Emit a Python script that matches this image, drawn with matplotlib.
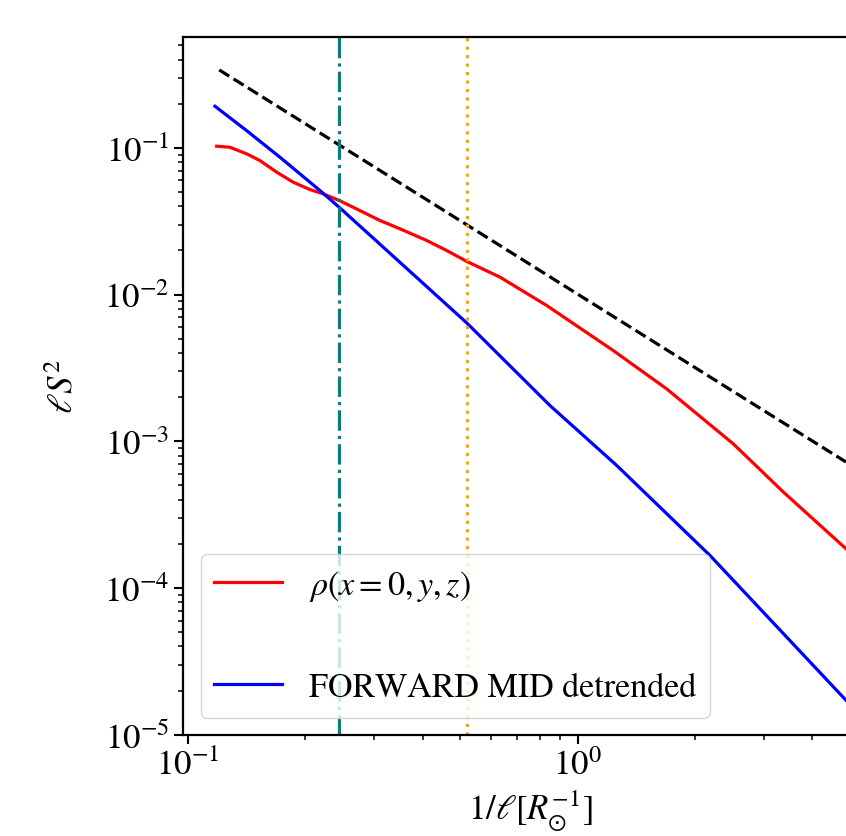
import matplotlib
matplotlib.use("Agg")
import matplotlib.pyplot as plt

plt.rcParams['mathtext.fontset'] = 'stix'
plt.rcParams['font.family'] = ['STIXGeneral', 'DejaVu Serif']
plt.rcParams['font.size'] = 25

# structure function, density slice
k_rho = [0.1185, 0.1282, 0.1416, 0.1531, 0.169, 0.1862, 0.2056, 0.2225, 0.2445,
         0.2763, 0.311, 0.350, 0.4098, 0.461, 0.519, 0.632, 0.833, 1.234, 1.692,
         2.507, 3.371, 4.882]
s_rho = [0.1027, 0.101, 0.0910, 0.0819, 0.0683, 0.0584, 0.0520, 0.0486, 0.0438,
         0.0374, 0.0320, 0.0281, 0.0234, 0.0200, 0.01686, 0.01316, 0.00843,
         0.00416, 0.00228, 0.000963, 0.000452, 0.0001855]

# FORWARD MID detrended
k_fwd = [0.1173, 0.1414, 0.1722, 0.2182, 0.2444, 0.5189, 0.849,
         1.259, 2.185, 4.882]
s_fwd = [0.1923, 0.1312, 0.0864, 0.0512, 0.0394, 0.00643,
         0.001755, 0.000686, 0.000167, 1.72e-5]

# -5/3 reference line
k_ref = [0.1203, 4.882]
s_ref = [0.340, 0.000723]

k_teal = 0.2444
k_orange = 0.52

fig = plt.figure(figsize=(8.46, 8.37), dpi=100)
ax = fig.add_axes([0.2169, 0.1210, 0.8209, 0.8332])

ax.plot(k_rho, s_rho, color='red', lw=2.3, label=r'$\rho\left(x=0,y,z\right)$')
ax.plot(k_fwd, s_fwd, color='blue', lw=2.3, label='FORWARD MID detrended')
ax.plot(k_ref, s_ref, color='k', ls='--', lw=2.3)
ax.axvline(k_teal, color='teal', ls='-.', lw=2.3)
ax.axvline(k_orange, color='orange', ls=':', lw=2.3)

ax.set_xscale('log')
ax.set_yscale('log')
ax.set_xlim(0.0974, 5.9)
ax.set_ylim(1e-5, 0.567)

ax.set_xlabel(r'$1/\ell[R_{\odot}^{-1}]$')
ax.set_ylabel(r'$\ell S^2$', labelpad=17)

for s in ax.spines.values():
    s.set_linewidth(1.6)
ax.tick_params(which='major', length=6.5, width=1.5, labelsize=25)
ax.tick_params(which='minor', length=3.6, width=1.1)

ax.legend(loc='lower left', labelspacing=2.05, fontsize=24.5)

fig.savefig('out.png', dpi=100)
